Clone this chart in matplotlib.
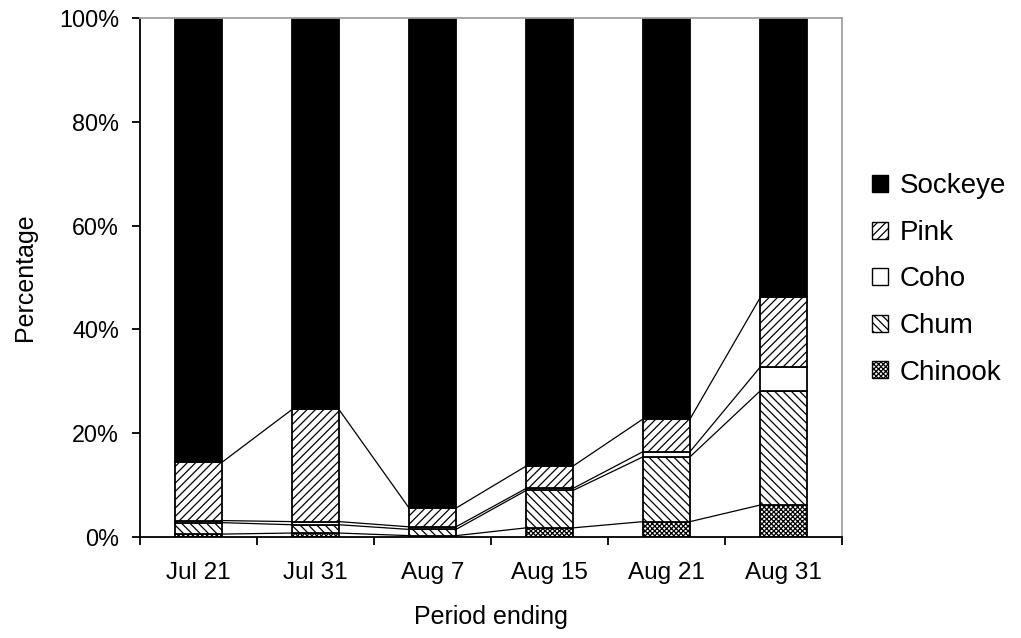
import matplotlib.pyplot as plt
import numpy as np
from matplotlib.patches import Patch

plt.rcParams["font.family"] = ["Liberation Sans", "DejaVu Sans"]
plt.rcParams["hatch.linewidth"] = 0.9

periods = ["Jul 21", "Jul 31", "Aug 7", "Aug 15", "Aug 21", "Aug 31"]
# percent of catch, bottom to top
chinook = [0.6, 0.8, 0.3, 1.8, 3.0, 6.2]
chum = [2.2, 1.6, 1.2, 7.2, 12.5, 22.0]
coho = [0.4, 0.6, 0.5, 0.4, 1.0, 4.6]
pink = [11.2, 21.6, 3.6, 4.3, 6.3, 13.4]
sockeye = [85.6, 75.4, 94.4, 86.3, 77.2, 53.8]

series = [
    ("Chinook", chinook, "white", "xxxxxxx"),
    ("Chum", chum, "white", "\\\\\\\\"),
    ("Coho", coho, "white", None),
    ("Pink", pink, "white", "////"),
    ("Sockeye", sockeye, "black", None),
]

fig = plt.figure(figsize=(10.21, 6.38), dpi=100)
ax = fig.add_axes([0.137, 0.158, 0.688, 0.814])

x = np.arange(len(periods))
width = 0.4
bottom = np.zeros(len(periods))
tops = []
for name, vals, fc, hatch in series:
    vals = np.array(vals)
    ax.bar(x, vals, width, bottom=bottom, color=fc, edgecolor="black",
           hatch=hatch, linewidth=1.3, zorder=2)
    bottom = bottom + vals
    tops.append(bottom.copy())

# series lines joining segment tops between neighbouring bars
for level in tops[:-1]:
    for i in range(len(periods) - 1):
        ax.plot([x[i] + width / 2, x[i + 1] - width / 2],
                [level[i], level[i + 1]], color="black", lw=0.9, zorder=1)

ax.set_xlim(-0.5, len(periods) - 0.5)
ax.set_ylim(0, 100)
ax.set_yticks(np.arange(0, 101, 20))
ax.set_yticklabels([f"{v}%" for v in range(0, 101, 20)], fontsize=16.8)
ax.set_xticks(x)
ax.set_xticklabels(periods, fontsize=17.5)
ax.set_xticks(np.arange(-0.5, len(periods)), minor=True)
ax.tick_params(axis="x", which="major", length=0, pad=18)
ax.tick_params(axis="x", which="minor", length=6, width=1.3, direction="out")
ax.tick_params(axis="y", length=6, width=1.3, direction="out", pad=9)

for side in ["top", "right"]:
    ax.spines[side].set_color("#a0a0a0")
    ax.spines[side].set_linewidth(1.3)
for side in ["left", "bottom"]:
    ax.spines[side].set_linewidth(1.3)

ax.set_xlabel("Period ending", fontsize=18, labelpad=15)
ax.set_ylabel("Percentage", fontsize=18, labelpad=16)

handles = [Patch(facecolor=fc, edgecolor="black", hatch=h, label=n)
           for n, _, fc, h in reversed(series)]
fig.legend(handles=handles, loc="center left", bbox_to_anchor=(0.8405, 0.562),
           frameon=False, fontsize=20, handlelength=0.57, handleheight=0.57,
           handletextpad=0.42, labelspacing=0.74, borderpad=0)

fig.savefig("out.png", dpi=100)
